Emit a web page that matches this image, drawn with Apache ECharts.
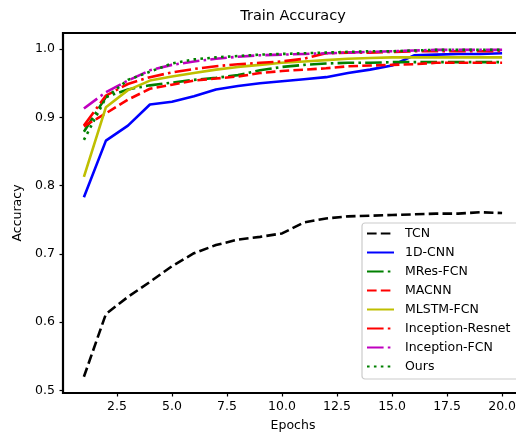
<!DOCTYPE html>
<html>
<head>
<meta charset="utf-8">
<script src="https://cdn.jsdelivr.net/npm/echarts@6/dist/echarts.min.js"></script>
<style>
  html, body { margin: 0; padding: 0; background: #fff; }
  #chart { width: 516px; height: 435px; }
</style>
</head>
<body>
<div id="chart"></div>
<script>
  // epochs on x axis
  let epochs = [1, 2, 3, 4, 5, 6, 7, 8, 9, 10, 11, 12, 13, 14, 15, 16, 17, 18, 19, 20];

  let tcn = [0.520, 0.612, 0.637, 0.659, 0.682, 0.701, 0.713, 0.721, 0.725, 0.730,
             0.746, 0.752, 0.755, 0.756, 0.757, 0.758, 0.759, 0.759, 0.761, 0.760];
  let cnn1d = [0.783, 0.866, 0.888, 0.919, 0.923, 0.931, 0.941, 0.946, 0.950, 0.953,
               0.956, 0.959, 0.965, 0.970, 0.976, 0.991, 0.992, 0.993, 0.993, 0.994];
  let mresFcn = [0.879, 0.930, 0.941, 0.947, 0.951, 0.955, 0.958, 0.962, 0.969, 0.974,
                 0.977, 0.979, 0.980, 0.980, 0.981, 0.981, 0.981, 0.981, 0.981, 0.981];
  let macnn = [0.887, 0.906, 0.926, 0.942, 0.948, 0.954, 0.957, 0.960, 0.965, 0.968,
               0.970, 0.972, 0.975, 0.976, 0.977, 0.978, 0.980, 0.980, 0.980, 0.980];
  let mlstmFcn = [0.813, 0.915, 0.940, 0.954, 0.960, 0.965, 0.970, 0.974, 0.977, 0.980,
                  0.982, 0.984, 0.986, 0.987, 0.988, 0.988, 0.988, 0.988, 0.988, 0.988];
  let incResnet = [0.888, 0.932, 0.949, 0.959, 0.966, 0.971, 0.975, 0.978, 0.980, 0.982,
                   0.986, 0.994, 0.995, 0.995, 0.996, 0.997, 0.997, 0.997, 0.997, 0.997];
  let incFcn = [0.913, 0.937, 0.954, 0.969, 0.977, 0.982, 0.986, 0.989, 0.991, 0.992,
                0.993, 0.994, 0.995, 0.996, 0.997, 0.998, 0.999, 0.999, 0.999, 0.999];
  let ours = [0.867, 0.929, 0.955, 0.967, 0.979, 0.985, 0.988, 0.990, 0.992, 0.993,
              0.994, 0.995, 0.996, 0.997, 0.997, 0.998, 0.999, 0.999, 0.999, 0.999];

  let xTicks = [2.5, 5.0, 7.5, 10.0, 12.5, 15.0, 17.5, 20.0];
  let yTicks = [0.5, 0.6, 0.7, 0.8, 0.9, 1.0];

  let lw = 2.6;
  let dashed = [9.6, 4.2];
  let dashDot = [16.6, 4.2, 2.6, 4.2];
  let dotted = [2.6, 4.3];

  let lines = [
    { name: 'TCN', data: tcn, color: '#000000', dash: dashed },
    { name: '1D-CNN', data: cnn1d, color: '#0000ff', dash: 'solid' },
    { name: 'MRes-FCN', data: mresFcn, color: '#008000', dash: dashDot },
    { name: 'MACNN', data: macnn, color: '#ff0000', dash: dashed },
    { name: 'MLSTM-FCN', data: mlstmFcn, color: '#bfbf00', dash: 'solid' },
    { name: 'Inception-Resnet', data: incResnet, color: '#ff0000', dash: dashDot },
    { name: 'Inception-FCN', data: incFcn, color: '#bf00bf', dash: dashDot },
    { name: 'Ours', data: ours, color: '#008000', dash: dotted }
  ];

  let font = 'DejaVu Sans';
  let myChart = echarts.init(document.getElementById('chart'), null, { renderer: 'canvas' });

  let option = {
    animation: false,
    backgroundColor: '#ffffff',
    title: {
      text: 'Train Accuracy',
      left: 293,
      top: 9,
      padding: 0,
      textAlign: 'center',
      textStyle: { fontFamily: font, fontSize: 14.5, fontWeight: 'normal', color: '#000' }
    },
    grid: {
      left: 63,
      top: 33,
      width: 460,
      bottom: 42,
      outerBoundsMode: 'none',
      containLabel: false,
      show: true,
      borderColor: '#000',
      borderWidth: 2.2,
      backgroundColor: 'transparent'
    },
    legend: {
      orient: 'vertical',
      left: 362,
      top: 223,
      padding: [4, 10, 6, 4],
      itemWidth: 27,
      itemHeight: 14,
      itemGap: 6,
      itemStyle: { opacity: 0 },
      backgroundColor: 'rgba(255,255,255,0.8)',
      borderColor: '#cccccc',
      borderWidth: 1.2,
      borderRadius: 3,
      textStyle: { fontFamily: font, fontSize: 12.5, color: '#000', padding: [0, 0, 0, 6] },
      data: lines.map(function (l) { return l.name; })
    },
    xAxis: {
      type: 'value',
      name: 'Epochs',
      nameLocation: 'middle',
      nameGap: 26,
      nameTextStyle: { fontFamily: font, fontSize: 12.5, color: '#000' },
      min: 0.05,
      max: 20.95,
      axisLine: { show: false },
      axisTick: { show: true, length: 3.5, lineStyle: { color: '#000', width: 1.2 }, customValues: xTicks },
      axisLabel: {
        fontFamily: font, fontSize: 12.5, color: '#000', margin: 7,
        customValues: xTicks,
        formatter: function (v) { return v.toFixed(1); }
      },
      splitLine: { show: false }
    },
    yAxis: {
      type: 'value',
      name: 'Accuracy',
      nameLocation: 'middle',
      nameGap: 34,
      nameTextStyle: { fontFamily: font, fontSize: 12.5, color: '#000' },
      min: 0.4962,
      max: 1.0237,
      axisLine: { show: false },
      axisTick: { show: true, length: 3.5, lineStyle: { color: '#000', width: 1.2 }, customValues: yTicks },
      axisLabel: {
        fontFamily: font, fontSize: 12.5, color: '#000', margin: 8,
        customValues: yTicks,
        formatter: function (v) { return v.toFixed(1); }
      },
      splitLine: { show: false }
    },
    series: lines.map(function (l) {
      return {
        name: l.name,
        type: 'line',
        symbol: 'none',
        color: l.color,
        lineStyle: { color: l.color, width: lw, type: l.dash, cap: 'butt' },
        data: epochs.map(function (e, i) { return [e, l.data[i]]; })
      };
    })
  };

  myChart.setOption(option);
</script>
</body>
</html>
